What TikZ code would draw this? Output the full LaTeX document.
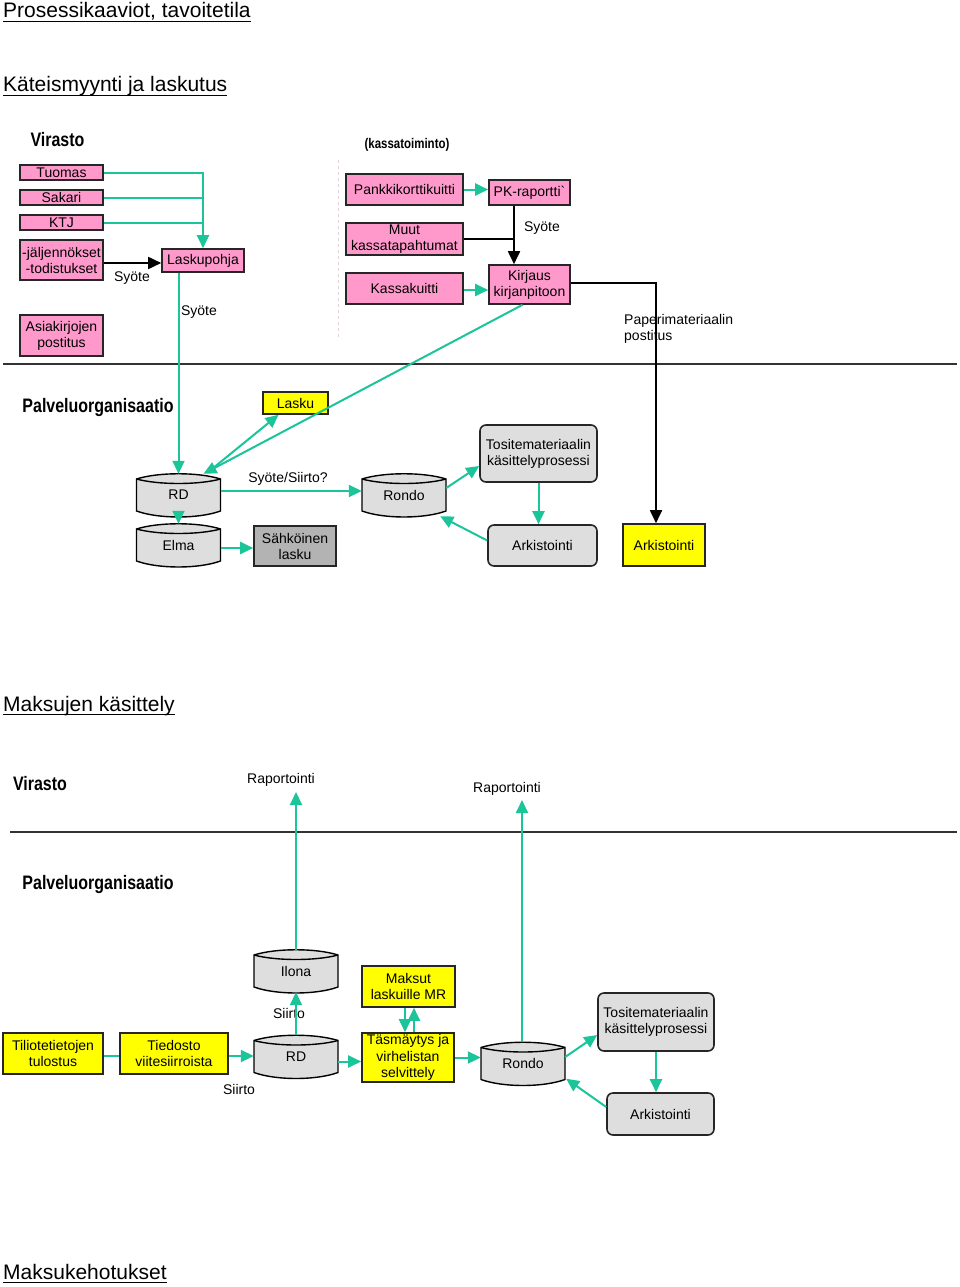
\documentclass[tikz,border=0pt]{standalone}
\usepackage{fontspec}
\setmainfont{Liberation Sans}
\newfontfamily\narrowbf[FakeStretch=0.82]{Liberation Sans}
\usetikzlibrary{arrows.meta}
\definecolor{grn}{HTML}{1CC49A}
\definecolor{pinkbox}{HTML}{FF99CC}
\definecolor{ylw}{HTML}{FFFF00}
\definecolor{lgray}{HTML}{DEDEDE}
\definecolor{dgray}{HTML}{B3B3B3}
\definecolor{dashc}{HTML}{E0D0D8}
\tikzset{
  txt/.style={font=\fontsize{14}{16}\selectfont},
  box/.style={draw=black!85, line width=1.6pt, inner sep=1pt, align=center, txt},
  pinkb/.style={box, fill=pinkbox},
  ylwb/.style={box, fill=ylw},
  dgrayb/.style={box, fill=dgray},
  roundb/.style={box, fill=lgray, rounded corners=6pt},
  dbline/.style={draw=black, line width=1.4pt, fill=lgray},
  dbnode/.style={inner sep=0, minimum width=84pt, minimum height=42pt, txt},
  lbl/.style={inner sep=0, txt},
  hd/.style={inner sep=0, font=\fontsize{21}{25}\selectfont},
  grp/.style={inner sep=0, font=\fontsize{19.5}{23}\narrowbf\bfseries},
  uline/.style={line width=1.5pt},
  tip/.style={-{Triangle[length=13pt,width=12pt]}},
  gline/.style={draw=grn, line width=2pt},
  garr/.style={gline, tip},
  bline/.style={draw=black, line width=1.8pt},
  barr/.style={bline, tip},
  sep/.style={draw=black!80, line width=1.8pt}
}
\newcommand{\dbcyl}[4]{%
  \filldraw[dbline] ({#2-42},{#3-16}) -- ({#2-42},{#3+16}) .. controls ({#2-20},{#3+24}) and ({#2+20},{#3+24}) .. ({#2+42},{#3+16}) -- ({#2+42},{#3-16}) .. controls ({#2+20},{#3-23}) and ({#2-20},{#3-23}) .. cycle;
  \draw[dbline, fill=none] ({#2-42},{#3-16}) .. controls ({#2-20},{#3-10}) and ({#2+20},{#3-10}) .. ({#2+42},{#3-16});
  \node[dbnode] (#1) at (#2,#3) {\raisebox{-3pt}{#4}};
}
\begin{document}
\begin{tikzpicture}[x=1pt,y=-1pt]
\useasboundingbox (0,0) rectangle (960,1287);
\fill[white] (0,0) rectangle (960,1287);

% headings
\node[hd, anchor=base west] (h1) at (3,18) {Prosessikaaviot, tavoitetila};
\draw[uline] ([yshift=-3.5pt]h1.base west) -- ([yshift=-3.5pt]h1.base east);
\node[hd, anchor=base west] (h2) at (3,92) {Käteismyynti ja laskutus};
\draw[uline] ([yshift=-3.5pt]h2.base west) -- ([yshift=-3.5pt]h2.base east);
\node[hd, anchor=base west] (h3) at (3,711) {Maksujen käsittely};
\draw[uline] ([yshift=-3.5pt]h3.base west) -- ([yshift=-3.5pt]h3.base east);
\node[hd, anchor=base west] (h4) at (3,1279) {Maksukehotukset};
\draw[uline] ([yshift=-3.5pt]h4.base west) -- ([yshift=-3.5pt]h4.base east);

\node[grp] (vir1) at (57.5,140) {Virasto};
\node[grp] (pal1) at (98,407) {Palveluorganisaatio};
\node[grp] (vir2) at (40,784) {Virasto};
\node[grp] (pal2) at (98,884) {Palveluorganisaatio};

% separators
\coordinate (s1a) at (3,364); \coordinate (s1b) at (957,364);
\draw[sep] (s1a) -- (s1b);
\coordinate (s2a) at (10,832); \coordinate (s2b) at (957,832);
\draw[sep] (s2a) -- (s2b);
\coordinate (dsa) at (338,160); \coordinate (dsb) at (338,340);
\draw[dashc, line width=1pt, dashed] (dsa) -- (dsb);

% ---------- top section ----------
\node[pinkb, minimum width=83pt, minimum height=15pt] (tuomas) at (61.5,172.5) {Tuomas};
\node[pinkb, minimum width=83pt, minimum height=15pt] (sakari) at (61.5,197.5) {Sakari};
\node[pinkb, minimum width=83pt, minimum height=15pt] (ktj) at (61.5,222.5) {KTJ};
\node[pinkb, minimum width=83pt, minimum height=40pt, inner sep=0pt] (jalj) at (61.5,260) {-jäljennökset\\-todistukset};
\node[pinkb, minimum width=83pt, minimum height=41pt] (asiak) at (61.5,335.5) {Asiakirjojen\\postitus};
\node[pinkb, minimum width=82pt, minimum height=23pt] (laskup) at (203,260.5) {Laskupohja};

\node[grp, font=\fontsize{14}{16}\narrowbf\bfseries] (kassa) at (407,145) {(kassatoiminto)};
\node[pinkb, minimum width=117pt, minimum height=31pt] (pankki) at (404.5,189.5) {Pankkikorttikuitti};
\node[pinkb, minimum width=117pt, minimum height=32pt, inner sep=0pt] (muut) at (404.5,239) {Muut\\kassatapahtumat};
\node[pinkb, minimum width=117pt, minimum height=31pt] (kassak) at (404.5,288.5) {Kassakuitti};
\node[pinkb, minimum width=81pt, minimum height=25pt] (pkrap) at (529.5,192.5) {PK-raportti\textasciigrave};
\node[pinkb, minimum width=81pt, minimum height=39pt, inner sep=0pt] (kirjaus) at (529.5,284.5) {Kirjaus\\kirjanpitoon};

\node[ylwb, minimum width=65pt, minimum height=22pt] (lasku) at (295.5,403) {Lasku};
\node[ylwb, minimum width=82pt, minimum height=42pt] (ark2) at (664,545) {Arkistointi};

\dbcyl{rd1}{178.5}{495}{RD}
\dbcyl{elma}{178.5}{545}{Elma}
\node[dgrayb, minimum width=82pt, minimum height=40pt] (sahko) at (295,546) {Sähköinen\\lasku};
\dbcyl{rondo1}{404}{495}{Rondo}
\node[roundb, minimum width=117pt, minimum height=57pt] (tosite1) at (538.5,453.5) {Tositemateriaalin\\käsittelyprosessi};
\node[roundb, minimum width=109pt, minimum height=41pt] (ark1) at (542.5,545.5) {Arkistointi};

% labels
\node[lbl] (ls1) at (132,278) {Syöte};
\node[lbl] (ls2) at (199,312) {Syöte};
\node[lbl] (ls3) at (542,228) {Syöte};
\node[lbl, align=left, anchor=west] (lpap) at (624,329) {Paperimateriaalin\\postitus};
\node[lbl] (lsy) at (288,479) {Syöte/Siirto?};

% connectors top
\draw[garr] (tuomas.east) -| (laskup.north);
\draw[gline] (sakari.east) -- (sakari.east -| laskup.north);
\draw[gline] (ktj.east) -- (ktj.east -| laskup.north);
\draw[barr] ([yshift=-3pt]jalj.east) -- ([yshift=-3pt]jalj.east -| laskup.west);
\draw[garr] (rd1.north |- laskup.south) -- (rd1.north);
\draw[garr] ([xshift=-7pt]kirjaus.south) -- ([xshift=25pt]rd1.north);
\draw[garr] ([xshift=30pt,yshift=2pt]rd1.north) -- ([xshift=-17pt]lasku.south);
\draw[garr] (pankki.east) -- (pankki.east -| pkrap.west);
\draw[garr] ([yshift=-1.5pt]kassak.east) -- ([yshift=-1.5pt]kassak.east -| kirjaus.west);
\draw[barr] ([xshift=-15.5pt]pkrap.south) -- ([xshift=-15.5pt]kirjaus.north);
\coordinate (mj) at ([xshift=-15.5pt]pkrap.south |- muut.east);
\draw[bline] (muut.east) -- (mj);
\draw[barr] ([yshift=1.5pt]kirjaus.east) -| ([xshift=-8pt]ark2.north);
\draw[garr] ([yshift=4pt]rd1.east) -- ([yshift=4pt]rondo1.west);
\draw[garr] (rd1.south) -- (elma.north);
\draw[garr] ([yshift=-3pt]elma.east) -- ([yshift=-3pt]elma.east -| sahko.west);
\draw[garr] ([yshift=7pt]rondo1.east) -- ([yshift=-12.5pt]tosite1.west);
\draw[garr] (tosite1.south) -- (tosite1.south |- ark1.north);
\draw[garr] ([yshift=5pt]ark1.west) -- ([xshift=-6pt]rondo1.south east);

% ---------- bottom section ----------
\node[ylwb, minimum width=100pt, minimum height=41pt] (tilio) at (53,1053.5) {Tiliotetietojen\\tulostus};
\node[ylwb, minimum width=108pt, minimum height=41pt] (tied) at (174,1053.5) {Tiedosto\\viitesiirroista};
\dbcyl{ilona}{296}{971}{Ilona}
\dbcyl{rd2}{296}{1056.5}{RD}
\node[ylwb, minimum width=93pt, minimum height=41pt] (maksut) at (408.5,986.5) {Maksut\\laskuille MR};
\node[ylwb, minimum width=92pt, minimum height=49pt, inner sep=0pt, font=\fontsize{14}{16.5}\selectfont] (tasm) at (408,1057.5) {Täsmäytys ja\\virhelistan\\selvittely};
\dbcyl{rondo2}{523}{1063.5}{Rondo}
\node[roundb, minimum width=116pt, minimum height=58pt] (tosite2) at (656,1022) {Tositemateriaalin\\käsittelyprosessi};
\node[roundb, minimum width=107pt, minimum height=42pt] (ark3) at (660.5,1114) {Arkistointi};

\node[lbl] (rap1) at (281,780) {Raportointi};
\node[lbl] (rap2) at (507,789) {Raportointi};
\node[lbl] (sii1) at (289,1013) {Siirto};
\node[lbl] (sii2) at (239,1089) {Siirto};

\coordinate (r1) at (296,792);
\coordinate (r2) at (522,800);
\draw[garr] (ilona.north) -- (r1);
\draw[garr] (rd2.north) -- (ilona.south);
\draw[garr] ([xshift=-1pt]rondo2.north) -- (r2);
\draw[gline] ([yshift=-2.5pt]tilio.east) -- ([yshift=-2.5pt]tied.west);
\draw[garr] ([yshift=-2.5pt]tied.east) -- ([yshift=-2.5pt]tied.east -| rd2.west);
\draw[garr] ([yshift=-5pt]rd2.east) -- ([yshift=-5pt]rd2.east -| tasm.west);
\draw[garr] ([xshift=-3.5pt]maksut.south) -- ([xshift=-3.5pt]maksut.south |- tasm.north);
\draw[garr] ([xshift=5.5pt]maksut.south |- tasm.north) -- ([xshift=5.5pt]maksut.south);
\draw[garr] (tasm.east) -- (tasm.east -| rondo2.west);
\draw[garr] ([yshift=6.5pt]rondo2.east) -- ([yshift=-13pt]tosite2.west);
\draw[garr] (tosite2.south) -- (tosite2.south |- ark3.north);
\draw[garr] ([yshift=7pt]ark3.west) -- ([xshift=1pt,yshift=6pt]rondo2.south east);
\end{tikzpicture}
\end{document}
